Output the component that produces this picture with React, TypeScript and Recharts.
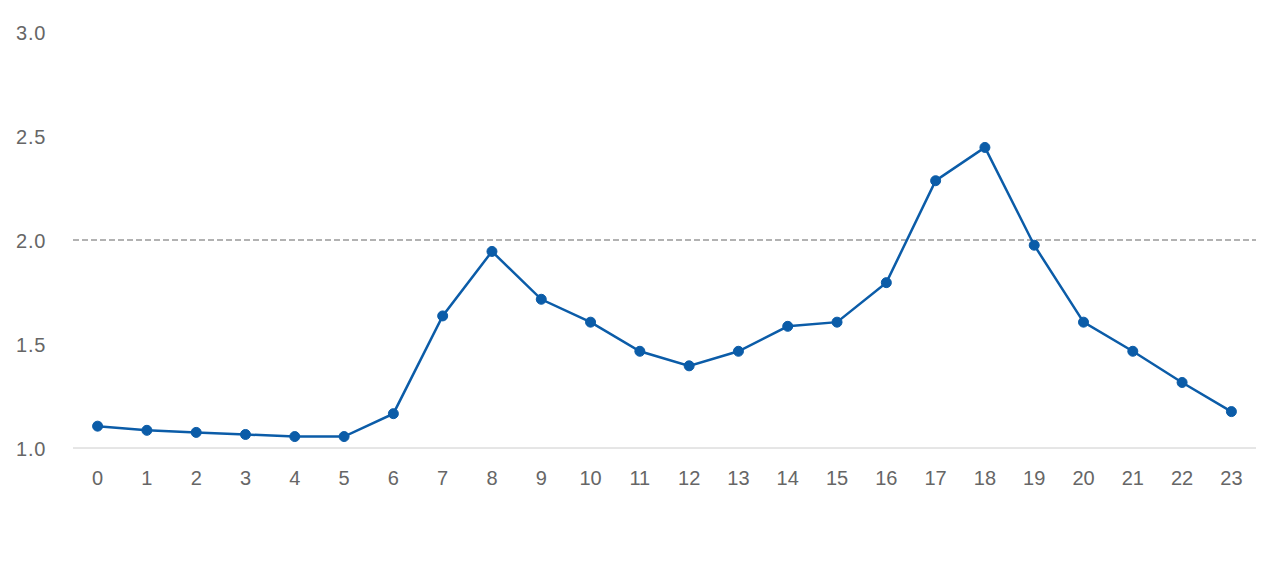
import React from "react";
import { LineChart, Line, XAxis, YAxis, ReferenceLine } from "recharts";

const hours = ["0","1","2","3","4","5","6","7","8","9","10","11","12","13","14","15","16","17","18","19","20","21","22","23"];
const values = [1.105,1.085,1.075,1.065,1.055,1.055,1.165,1.635,1.945,1.715,1.605,1.465,1.395,1.465,1.585,1.605,1.795,2.285,2.445,1.975,1.605,1.465,1.315,1.175];
const yTicks = [1, 1.5, 2, 2.5, 3];
const refValue = 2;

const data = hours.map((h, i) => ({ hour: h, value: values[i] }));

const FONT = "'Liberation Sans', Arial, sans-serif";
const FS = 20;

const YTick = (props: any) => {
  const { y, payload } = props;
  return (
    <text x={8} y={y} dy={8} textAnchor="start" fill="#666" fontSize={FS} fontFamily={FONT} letterSpacing={0.8}>
      {Number(payload.value).toFixed(1)}
    </text>
  );
};

export default function App() {
  return (
    <LineChart width={1264} height={548} data={data} margin={{ top: 24, right: 16, left: 0, bottom: 78 }}>
      <XAxis
        dataKey="hour"
        axisLine={{ stroke: "#ccc" }}
        tickLine={false}
        padding={{ left: 24.6, right: 24.6 }}
        tick={{ fill: "#666", fontSize: FS, fontFamily: FONT }}
        tickMargin={17}
        interval={0}
        height={30}
      />
      <YAxis
        domain={[1, 3]}
        ticks={yTicks}
        axisLine={false}
        tickLine={false}
        width={65}
        tick={<YTick />}
      />
      <ReferenceLine y={refValue} stroke="#999" strokeDasharray="6 3" strokeWidth={1.5} />
      <Line
        type="linear"
        dataKey="value"
        stroke="#0b5ca8"
        strokeWidth={2.5}
        dot={{ r: 5, fill: "#0b5ca8", stroke: "#0b5ca8", strokeWidth: 1 }}
        isAnimationActive={false}
      />
    </LineChart>
  );
}
